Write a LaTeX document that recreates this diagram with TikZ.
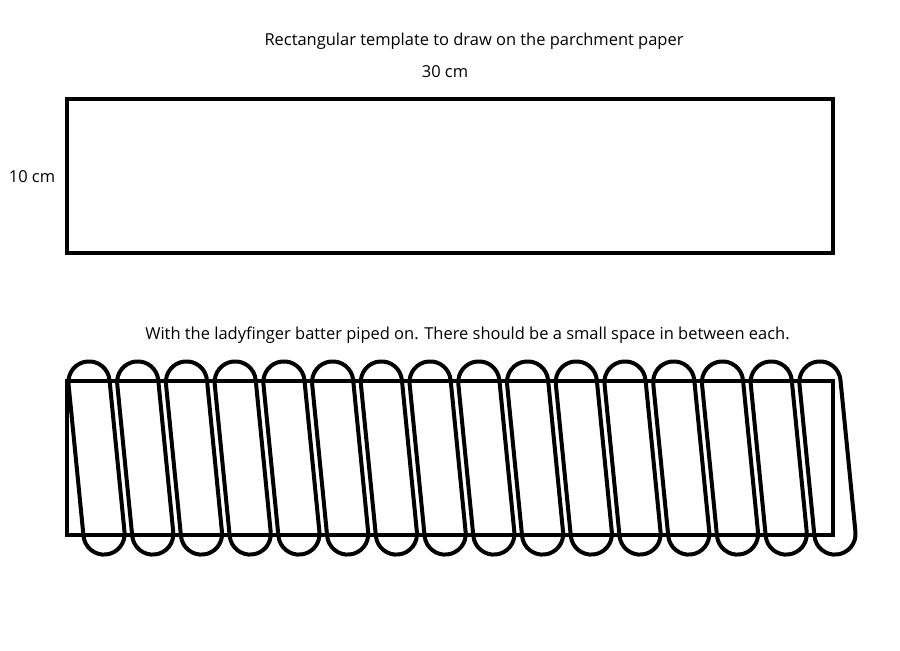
\documentclass[tikz,border=0pt]{standalone}
\usepackage{fontspec}
\setmainfont{Open Sans}
\tikzset{
	outline/.style={line width=0.8mm, color=black},
	caption/.style={font=\fontsize{9.37}{11}\selectfont, inner sep=0pt}
}
\def\capsule[#1](#2,#3){\draw[#1] (#2+20.5, #3+2.1) arc (5.86:185.86:20.6) -- ++(15, -152) arc (185.86:365.86:20.6) -- cycle;}

\begin{document}
\begin{tikzpicture}[x=0.02cm, y=0.02cm]
	\useasboundingbox (0, 0) rectangle (900, 650);
	%%%%% TEMPLATE %%%%%
	\node[caption] (title) at (474, 608.5) {Rectangular template to draw on the parchment paper};
	\node[caption] (width) at (445, 578.5) {30 cm};
	\node[caption] (height) at (32, 473.5) {10 cm};
	\draw[outline] (67, 397) rectangle (832.5, 551);
	%%%%% PIPED %%%%%
	\node[caption] (note) at (467.5, 314.5) {With the ladyfinger batter piped on. There should be a small space in between each.};
	\draw[outline] (67, 115) rectangle (832.5, 269);
	\foreach \i in {0,...,15} {
		\capsule[outline](89+48.73*\i, 268);
	}
\end{tikzpicture}
\end{document}
